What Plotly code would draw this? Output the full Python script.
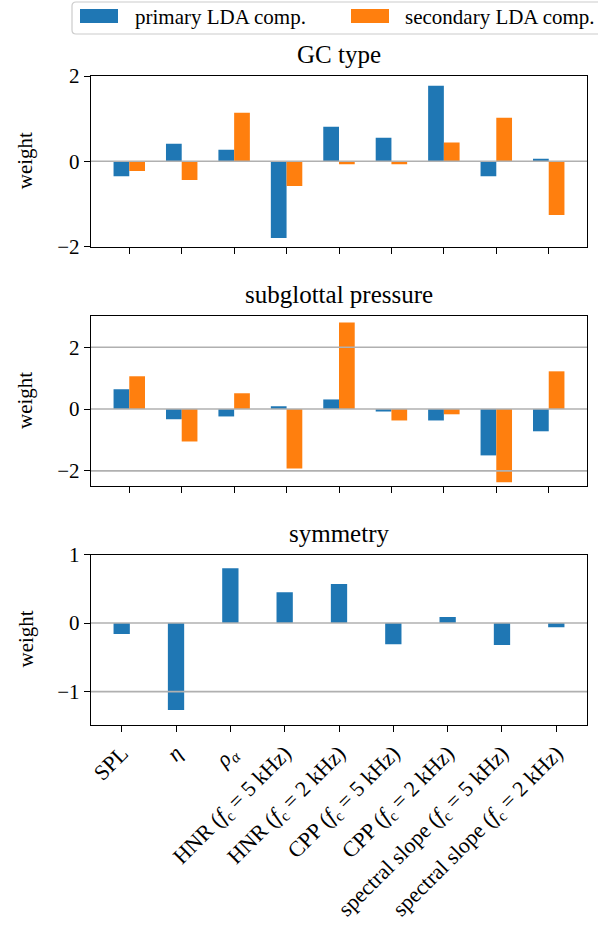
import plotly.graph_objects as go

# ---------------- data ----------------
tick_labels = [
    "SPL",
    "<i>η</i>",
    "<i>ρ</i><sub><i>α</i></sub>",
    "HNR (<i>f</i><sub>c</sub> = 5 kHz)",
    "HNR (<i>f</i><sub>c</sub> = 2 kHz)",
    "CPP (<i>f</i><sub>c</sub> = 5 kHz)",
    "CPP (<i>f</i><sub>c</sub> = 2 kHz)",
    "spectral slope (<i>f</i><sub>c</sub> = 5 kHz)",
    "spectral slope (<i>f</i><sub>c</sub> = 2 kHz)",
]
panel_titles = ["GC type", "subglottal pressure", "symmetry"]
series_names = ["primary LDA comp.", "secondary LDA comp."]

gc_primary = [-0.35, 0.41, 0.27, -1.80, 0.81, 0.55, 1.77, -0.35, 0.06]
gc_secondary = [-0.23, -0.44, 1.14, -0.58, -0.07, -0.07, 0.44, 1.02, -1.26]
psub_primary = [0.64, -0.33, -0.24, 0.09, 0.31, -0.08, -0.37, -1.50, -0.72]
psub_secondary = [1.06, -1.05, 0.51, -1.92, 2.80, -0.37, -0.17, -2.37, 1.22]
sym_primary = [-0.16, -1.27, 0.80, 0.45, 0.57, -0.31, 0.09, -0.32, -0.06]

y_ticks = [[-2, 0, 2], [-2, 0, 2], [-1, 0, 1]]
y_ranges = [[-2.0, 2.0], [-2.49, 3.01], [-1.48, 1.0]]
x_ranges = [[-0.73, 8.73], [-0.73, 8.73], [-0.565, 8.565]]

# ---------------- style ----------------
W, H = 598, 926
BLUE = "#1f77b4"
ORANGE = "#ff7f0e"
FONT = "Liberation Serif"
FS = 21
XTICK_FS = 22
TITLE_FS = 25
GRID = "#b0b0b0"

x_left, x_right = 91, 587
panel_px = [(76, 246.5), (316, 486), (554.5, 724.5)]  # top, bottom in pixels

xs = list(range(len(tick_labels)))
BW = 0.3

fig = go.Figure()

panels = [
    [gc_primary, gc_secondary],
    [psub_primary, psub_secondary],
    [sym_primary],
]

for i, series in enumerate(panels):
    ax = "" if i == 0 else str(i + 1)
    offsets = [-BW, 0.0] if len(series) == 2 else [-BW / 2]
    for j, vals in enumerate(series):
        fig.add_trace(go.Bar(
            x=xs, y=vals, width=BW, offset=offsets[j],
            marker=dict(color=[BLUE, ORANGE][j], line=dict(width=0)),
            name=series_names[j], showlegend=False,
            xaxis="x" + ax, yaxis="y" + ax,
        ))

layout = dict(
    width=W, height=H, autosize=False,
    margin=dict(l=0, r=0, t=0, b=0, pad=0, autoexpand=False),
    plot_bgcolor="white", paper_bgcolor="white",
    font=dict(family=FONT, size=FS, color="black"),
    barmode="overlay",
    shapes=[], annotations=[],
)

for i in range(3):
    ax = "" if i == 0 else str(i + 1)
    top, bot = panel_px[i]
    layout["xaxis" + ax] = dict(
        domain=[x_left / W, x_right / W],
        anchor="y" + ax,
        range=x_ranges[i],
        tickvals=xs,
        ticktext=tick_labels,
        showticklabels=(i == 2),
        tickangle=-45,
        automargin=False,
        ticks="outside", ticklen=6, tickwidth=1.4, tickcolor="black",
        showline=True, mirror=True, linecolor="black", linewidth=1.4,
        showgrid=False, zeroline=False,
        tickfont=dict(family=FONT, size=XTICK_FS, color="black"),
    )
    layout["yaxis" + ax] = dict(
        domain=[1 - bot / H, 1 - top / H],
        anchor="x" + ax,
        range=y_ranges[i],
        tickvals=y_ticks[i],
        automargin=False,
        ticks="outside", ticklen=6, tickwidth=1.4, tickcolor="black",
        showline=True, mirror=True, linecolor="black", linewidth=1.4,
        showgrid=False, zeroline=False,
        tickfont=dict(family=FONT, size=FS, color="black"),
    )
    lo, hi = y_ranges[i]
    for t in y_ticks[i]:
        if lo < t < hi:
            layout["shapes"].append(dict(
                type="line", xref="x" + ax + " domain", yref="y" + ax,
                x0=0, x1=1, y0=t, y1=t, layer="above",
                line=dict(color=GRID, width=1.6),
            ))
    layout["annotations"].append(dict(
        text=panel_titles[i], xref="x" + ax + " domain", yref="y" + ax + " domain",
        x=0.5, y=1, xanchor="center", yanchor="bottom", yshift=6,
        showarrow=False, font=dict(family=FONT, size=TITLE_FS, color="black"),
    ))
    layout["annotations"].append(dict(
        text="weight", xref="paper", yref="y" + ax + " domain",
        x=25 / W, y=0.5, xanchor="center", yanchor="middle", textangle=-90,
        showarrow=False, font=dict(family=FONT, size=FS, color="black"),
    ))

# ---------------- custom legend (top) ----------------
def px_x(v):
    return v / W

def px_y(v):
    return 1 - v / H

lx0, lx1, ly0, ly1, r = 72, 606, 2, 34, 4
path = (
    f"M {px_x(lx0 + r)} {px_y(ly0)} L {px_x(lx1 - r)} {px_y(ly0)} "
    f"Q {px_x(lx1)} {px_y(ly0)} {px_x(lx1)} {px_y(ly0 + r)} "
    f"L {px_x(lx1)} {px_y(ly1 - r)} Q {px_x(lx1)} {px_y(ly1)} {px_x(lx1 - r)} {px_y(ly1)} "
    f"L {px_x(lx0 + r)} {px_y(ly1)} Q {px_x(lx0)} {px_y(ly1)} {px_x(lx0)} {px_y(ly1 - r)} "
    f"L {px_x(lx0)} {px_y(ly0 + r)} Q {px_x(lx0)} {px_y(ly0)} {px_x(lx0 + r)} {px_y(ly0)} Z"
)
layout["shapes"].append(dict(
    type="path", xref="paper", yref="paper", path=path,
    line=dict(color="#cccccc", width=1.2), fillcolor="rgba(255,255,255,0.8)",
))
for k, (px0, tx) in enumerate([(80, 133), (351, 403)]):
    layout["shapes"].append(dict(
        type="rect", xref="paper", yref="paper",
        x0=px_x(px0), x1=px_x(px0 + 38), y0=px_y(23), y1=px_y(9),
        line=dict(width=0), fillcolor=[BLUE, ORANGE][k],
    ))
    layout["annotations"].append(dict(
        text=series_names[k], xref="paper", yref="paper",
        x=px_x(tx), y=px_y(16.5), xanchor="left", yanchor="middle",
        showarrow=False, font=dict(family=FONT, size=FS, color="black"),
    ))

fig.update_layout(**layout)
fig.write_html(
    "out.html",
    config={"displayModeBar": False},
    post_script="document.body.style.margin='0';document.body.style.overflow='hidden';"
                "document.documentElement.style.overflow='hidden';",
)
